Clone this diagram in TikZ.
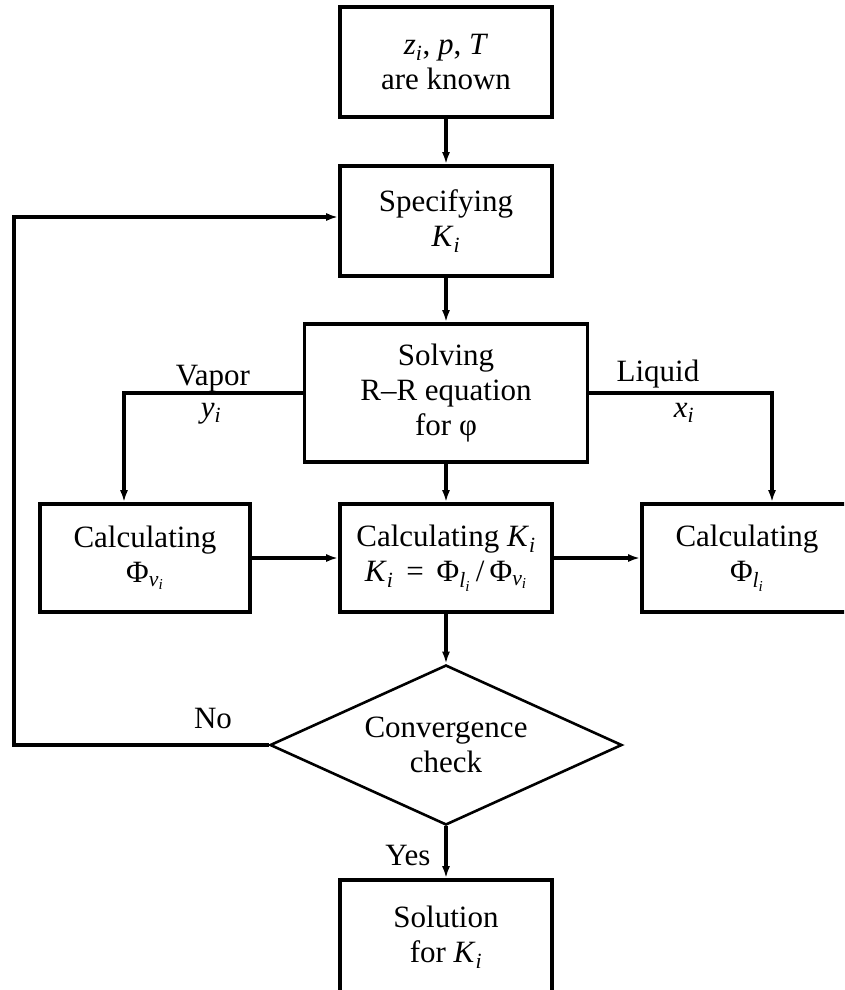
\documentclass[tikz,border=0pt]{standalone}
\usepackage{fontspec}
\setmainfont{Liberation Serif}
\usetikzlibrary{shapes.geometric,arrows.meta,positioning}
\newcommand{\ivar}[2]{\textit{#1}\textsubscript{\textit{#2}}}

\begin{document}
\begin{tikzpicture}[x=1pt,y=-1pt,
  every node/.style={align=center,font=\fontsize{31}{35}\selectfont},
  stepbox/.style={draw,line width=3.6pt,minimum width=212pt,minimum height=110pt,inner sep=0pt},
  checkbox/.style={diamond,draw,line width=2.6pt,minimum width=352pt,minimum height=160pt,aspect=2.2,inner sep=0pt},
  flow/.style={line width=3.2pt,-{Latex[length=12pt,width=8pt]}}]
\useasboundingbox (0,0) rectangle (844,990);
\clip (0,0) rectangle (844,990);

\node[stepbox] (1) at (446,62) {\ivar{z}{i}, \textit{p}, \textit{T}\\are known};
\node[stepbox] (2) at (446,221) {Specifying\\\ivar{K}{i}};
\node[stepbox,minimum width=283pt,minimum height=138pt] (3) at (446,393) {Solving\\R--R equation\\for φ};
\node[stepbox,minimum width=210pt,minimum height=108pt] (4) at (145,558) {Calculating\\Φ\textsubscript{\ivar{v}{i}}};
\node[stepbox,minimum height=108pt] (5) at (446,558) {Calculating \ivar{K}{i}\\\ivar{K}{i}\ \,=\ \,Φ\textsubscript{\ivar{l}{i}}\,/\,Φ\textsubscript{\ivar{v}{i}}};
\node[stepbox,minimum width=210pt,minimum height=108pt] (6) at (747,558) {Calculating\\Φ\textsubscript{\ivar{l}{i}}};
\node[checkbox] (7) at (446,745) {Convergence\\check};
\node[stepbox,minimum height=114pt] (8) at (446,937) {Solution\\for \ivar{K}{i}};

\node[anchor=base] (vap) at (213,385) {Vapor};
\node[anchor=base] (yi) at (211,417) {\ivar{y}{i}};
\node[anchor=base] (liq) at (658,381) {Liquid};
\node[anchor=base] (xi) at (684,417) {\ivar{x}{i}};
\node[anchor=base] (no) at (213,728) {No};
\node[anchor=base] (yes) at (408,865) {Yes};

\draw[flow] (1) -- (2);
\draw[flow] (2) -- (3);
\draw[flow] (3.west) -| ([xshift=-21pt]4.north);
\draw[flow] (3.east) -| ([xshift=25pt]6.north);
\draw[flow] (3) -- (5);
\draw[flow] (4) -- (5);
\draw[flow] (5) -- (6);
\draw[flow] (5) -- (7);
\draw[flow] (7) -- (8);
\coordinate (9) at (14,745);
\draw[flow] (7.west) -- (9) |- ([yshift=4pt]2.west);

\end{tikzpicture}
\end{document}
